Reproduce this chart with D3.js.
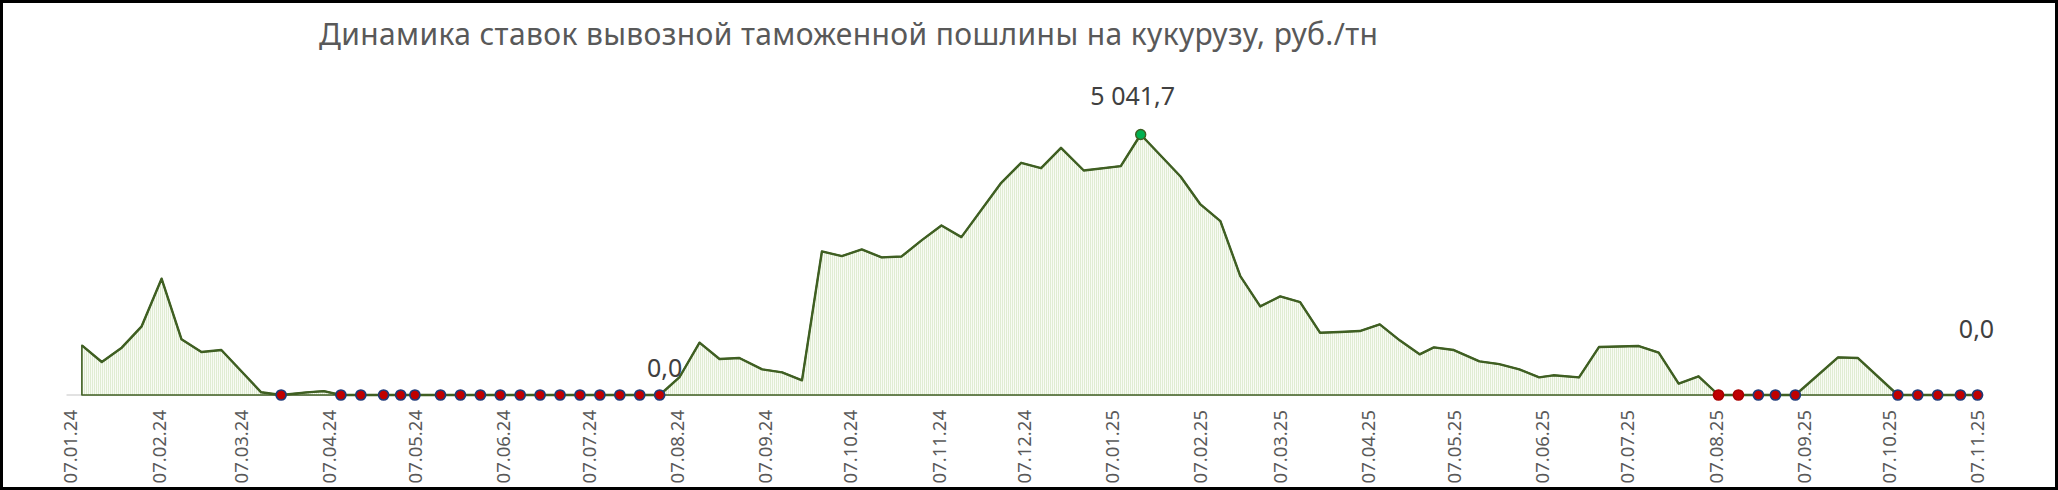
<!DOCTYPE html>
<html>
<head>
<meta charset="utf-8">
<script src="https://cdn.jsdelivr.net/npm/d3@7"></script>
<style>
  html, body { margin: 0; padding: 0; background: #fff; }
  svg { display: block; }
</style>
</head>
<body>
<svg id="chart" width="2058" height="490"></svg>
<script>
// ---------------- DATA ----------------
const title = "Динамика ставок вывозной таможенной пошлины на кукурузу, руб./тн";

const dates = [
  "2024-01-11","2024-01-18","2024-01-25","2024-02-01","2024-02-08","2024-02-15","2024-02-22","2024-02-29",
  "2024-03-14","2024-03-21","2024-03-30","2024-04-05","2024-04-11","2024-04-18","2024-04-26","2024-05-02",
  "2024-05-07","2024-05-16","2024-05-23","2024-05-30","2024-06-06","2024-06-13","2024-06-20","2024-06-27",
  "2024-07-04","2024-07-11","2024-07-18","2024-07-25","2024-08-01","2024-08-08","2024-08-15","2024-08-22",
  "2024-08-29","2024-09-06","2024-09-13","2024-09-20","2024-09-27","2024-10-04","2024-10-11","2024-10-18",
  "2024-10-25","2024-11-01","2024-11-08","2024-11-15","2024-11-29","2024-12-06","2024-12-13","2024-12-20",
  "2024-12-28","2025-01-10","2025-01-17","2025-01-31","2025-02-07","2025-02-14","2025-02-21","2025-02-28",
  "2025-03-07","2025-03-14","2025-03-21","2025-03-28","2025-04-04","2025-04-11","2025-04-18","2025-04-25",
  "2025-04-30","2025-05-07","2025-05-16","2025-05-23","2025-05-30","2025-06-06","2025-06-11","2025-06-20",
  "2025-06-27","2025-07-04","2025-07-11","2025-07-18","2025-07-25","2025-08-01","2025-08-08","2025-08-15",
  "2025-08-22","2025-08-28","2025-09-04","2025-09-19","2025-09-26","2025-10-10","2025-10-17","2025-10-24",
  "2025-11-01","2025-11-07"
];

const values = [
  961, 638, 916, 1329, 2251, 1077, 832, 870,
  52, 0, 50, 75, 0, 0, 0, 0,
  0, 0, 0, 0, 0, 0, 0, 0,
  0, 0, 0, 0, 0, 348, 1013, 697,
  716, 497, 439, 284, 2779, 2689, 2818, 2663,
  2682, 2992, 3282, 3056, 4107, 4494, 4390, 4784,
  4345, 4429, 5041.7, 4229, 3688, 3365, 2301, 1715,
  1909, 1799, 1206, 1218, 1238, 1367, 1058, 787,
  922, 870, 652, 597, 497, 342, 381, 342,
  928, 940, 948, 820, 220, 362, 0, 0,
  0, 0, 0, 729, 716, 0, 0, 0,
  0, 0
];

const tickLabels = [
  "07.01.24","07.02.24","07.03.24","07.04.24","07.05.24","07.06.24","07.07.24","07.08.24",
  "07.09.24","07.10.24","07.11.24","07.12.24","07.01.25","07.02.25","07.03.25","07.04.25",
  "07.05.25","07.06.25","07.07.25","07.08.25","07.09.25","07.10.25","07.11.25"
];

// zero-value points whose marker has a red outline instead of navy
const redOutlineDates = ["2025-08-08","2025-08-15"];
// points carrying a data label
const labelDates = ["2024-08-01","2025-01-17","2025-11-07"];
const peakDate = "2025-01-17";

// ---------------- SETUP ----------------
const parseISO = d3.utcParse("%Y-%m-%d");
const parseTick = d3.utcParse("%d.%m.%y");
const data = dates.map((d, i) => ({ key: d, date: parseISO(d), value: values[i] }));

const ru = d3.formatLocale({ decimal: ",", thousands: "\u00a0", grouping: [3], currency: ["", " руб."] });
const fmt = ru.format(",.1f");

const svg = d3.select("#chart");
const W = 2058, H = 490;

svg.append("rect").attr("width", W).attr("height", H).attr("fill", "#fff");

const x = d3.scaleUtc()
  .domain([parseTick(tickLabels[0]), parseTick(tickLabels[tickLabels.length - 1])])
  .range([70.5, 1977.5]);
const y = d3.scaleLinear().domain([0, 6000]).range([395, 85]);

// pattern for area fill (thin vertical light-green stripes)
const defs = svg.append("defs");
const pat = defs.append("pattern")
  .attr("id", "stripes").attr("patternUnits", "userSpaceOnUse")
  .attr("width", 2).attr("height", 4);
pat.append("rect").attr("width", 2).attr("height", 4).attr("fill", "#f8fbf4");
pat.append("rect").attr("width", 1).attr("height", 4).attr("fill", "#e0ecd3");

// horizontal axis line (light gray)
svg.append("line")
  .attr("x1", x(parseTick(tickLabels[0])) - 4).attr("x2", x(data[data.length - 1].date) + 6)
  .attr("y1", y(0)).attr("y2", y(0))
  .attr("stroke", "#d9d9d9").attr("stroke-width", 1.5);

// area
const area = d3.area().x(d => x(d.date)).y0(y(0)).y1(d => y(d.value)).curve(d3.curveLinear);
svg.append("path").datum(data)
  .attr("d", area)
  .attr("fill", "url(#stripes)")
  .attr("stroke", "#3f5f22").attr("stroke-width", 1.6).attr("stroke-linejoin", "round");

// line
const line = d3.line().x(d => x(d.date)).y(d => y(d.value)).curve(d3.curveLinear);
svg.append("path").datum(data)
  .attr("d", line)
  .attr("fill", "none")
  .attr("stroke", "#3f5f22").attr("stroke-width", 2.4).attr("stroke-linejoin", "round");

// markers on zero values
svg.append("g").selectAll("circle")
  .data(data.filter(d => d.value === 0))
  .join("circle")
  .attr("cx", d => x(d.date)).attr("cy", d => y(d.value))
  .attr("r", 5)
  .attr("fill", "#c00000")
  .attr("stroke", d => redOutlineDates.includes(d.key) ? "#a80000" : "#1f3a78")
  .attr("stroke-width", 1.7);

// peak marker
const peak = data.find(d => d.key === peakDate);
svg.append("circle")
  .attr("cx", x(peak.date)).attr("cy", y(peak.value)).attr("r", 5)
  .attr("fill", "#00b050").attr("stroke", "#3f5f22").attr("stroke-width", 1.4);

// data labels
const labelOffsets = [[5, -18], [-8, -30], [-1, -57]];
svg.append("g").selectAll("text")
  .data(labelDates.map(k => data.find(d => d.key === k)))
  .join("text")
  .attr("x", (d, i) => x(d.date) + labelOffsets[i][0])
  .attr("y", (d, i) => y(d.value) + labelOffsets[i][1])
  .attr("text-anchor", "middle")
  .attr("font-family", "'Noto Sans', 'Open Sans', sans-serif")
  .attr("font-size", 25)
  .attr("fill", "#404040")
  .text(d => fmt(d.value));

// x axis with rotated tick labels
const axis = d3.axisBottom(x)
  .tickValues(tickLabels.map(parseTick))
  .tickFormat(d3.utcFormat("%d.%m.%y"))
  .tickSize(0).tickPadding(0);
const gAxis = svg.append("g").attr("transform", `translate(0,${y(0)})`).call(axis);
gAxis.select(".domain").remove();
gAxis.selectAll("text")
  .attr("transform", "translate(0,15) rotate(-90)")
  .attr("x", 0).attr("y", 0).attr("dy", "0.35em")
  .attr("text-anchor", "end")
  .attr("font-family", "'Noto Sans', 'Open Sans', sans-serif")
  .attr("font-size", 18.5)
  .attr("fill", "#595959");

// title
const t = svg.append("text")
  .attr("x", 319).attr("y", 45)
  .attr("font-family", "'Noto Sans', 'Open Sans', sans-serif")
  .attr("font-size", 28)
  .attr("fill", "#595959")
  .text(title);
const targetW = 1059;
const w0 = t.node().getComputedTextLength();
const fs = Math.min(30, 28 * targetW / w0);
t.attr("font-size", fs);
t.attr("textLength", targetW).attr("lengthAdjust", "spacing");

// outer frame
svg.append("rect")
  .attr("x", 1.5).attr("y", 1.5).attr("width", W - 3).attr("height", H - 3)
  .attr("fill", "none").attr("stroke", "#000").attr("stroke-width", 3);
</script>
</body>
</html>
